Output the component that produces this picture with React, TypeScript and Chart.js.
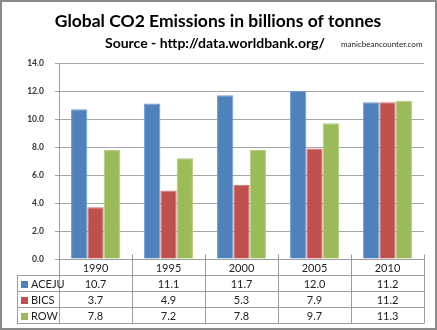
import { useEffect, useRef } from 'react';
import { Chart, registerables } from 'chart.js';
Chart.register(...registerables);

const categories = ['1990', '1995', '2000', '2005', '2010'];
const seriesNames = ['ACEJU', 'BICS', 'ROW'];
const aceju = [10.7, 11.1, 11.7, 12.0, 11.2];
const bics = [3.7, 4.9, 5.3, 7.9, 11.2];
const rowVals = [7.8, 7.2, 7.8, 9.7, 11.3];
const seriesColors = ['#4F81BD', '#C0504D', '#9BBB59'];
const seriesBorders = ['#6F9AD0', '#D0706D', '#B0CC7A'];
const yMin = 0;
const yMax = 14;
const yStep = 2;
const titleText = 'Global CO2 Emissions in billions of tonnes';
const subtitleText = 'Source - http://data.worldbank.org/';
const creditText = 'manicbeancounter.com';

const FONT = 'Lato, "Open Sans", sans-serif';

const allSeries = [aceju, bics, rowVals];

const overlayPlugin = {
  id: 'overlay',
  afterDraw(chart: any) {
    const ctx = chart.ctx as CanvasRenderingContext2D;
    const { left, right, bottom } = chart.chartArea;
    const n = categories.length;
    const cw = (right - left) / n;
    const rowH = 16;
    const legendLeft = 17;
    ctx.save();
    // titles
    ctx.fillStyle = '#000';
    ctx.textBaseline = 'alphabetic';
    ctx.textAlign = 'center';
    ctx.font = `bold 17.5px ${FONT}`;
    ctx.fillText(titleText, 218, 27);
    ctx.textAlign = 'left';
    ctx.font = `bold 14px ${FONT}`;
    ctx.fillText(subtitleText, 105, 48);
    ctx.font = `8px ${FONT}`;
    ctx.fillStyle = '#222';
    ctx.fillText(creditText, 341, 47);

    // table lines
    ctx.strokeStyle = '#9C9C9C';
    ctx.lineWidth = 1;
    const top0 = Math.round(bottom) + 0.5;
    const rowsY = [top0, top0 + rowH, top0 + 2 * rowH, top0 + 3 * rowH, top0 + 4 * rowH];
    ctx.beginPath();
    ctx.moveTo(left, rowsY[0]);
    ctx.lineTo(right, rowsY[0]);
    for (let r = 1; r < rowsY.length; r++) {
      ctx.moveTo(legendLeft, rowsY[r]);
      ctx.lineTo(right, rowsY[r]);
    }
    for (let i = 0; i <= n; i++) {
      const x = Math.round(left + i * cw) + 0.5;
      ctx.moveTo(x, rowsY[0] - 5);
      ctx.lineTo(x, rowsY[4]);
    }
    ctx.moveTo(legendLeft + 0.5, rowsY[1]);
    ctx.lineTo(legendLeft + 0.5, rowsY[4]);
    ctx.stroke();

    // header labels
    ctx.fillStyle = '#222';
    ctx.font = `11px ${FONT}`;
    ctx.textAlign = 'center';
    ctx.textBaseline = 'middle';
    for (let i = 0; i < n; i++) {
      const cx = chart.scales.x.getPixelForValue(i);
      ctx.fillText(categories[i], cx, rowsY[0] + rowH / 2 + 0.5);
    }
    for (let s = 0; s < allSeries.length; s++) {
      const yMid = rowsY[s + 1] + rowH / 2 + 0.5;
      ctx.fillStyle = seriesColors[s];
      ctx.fillRect(21, Math.round(yMid - 3.5), 7, 7);
      ctx.fillStyle = '#222';
      ctx.textAlign = 'left';
      ctx.fillText(seriesNames[s], 31, yMid);
      ctx.textAlign = 'center';
      for (let i = 0; i < n; i++) {
        const cx = chart.scales.x.getPixelForValue(i);
        ctx.fillText(allSeries[s][i].toFixed(1), cx, yMid);
      }
    }

    // outer border
    ctx.strokeStyle = '#8A8A8A';
    ctx.lineWidth = 2;
    ctx.strokeRect(1, 1, chart.width - 2, chart.height - 2);
    ctx.restore();
  },
};

export default function App() {
  const ref = useRef<HTMLCanvasElement>(null);
  useEffect(() => {
    const chart = new Chart(ref.current!, {
      type: 'bar',
      data: {
        labels: categories,
        datasets: allSeries.map((d, i) => ({
          label: seriesNames[i],
          data: d,
          backgroundColor: seriesColors[i],
          borderColor: seriesBorders[i],
          borderWidth: 1,
          categoryPercentage: 0.67,
          barPercentage: 1.0,
        })),
      },
      options: {
        animation: false,
        responsive: false,
        devicePixelRatio: 1,
        layout: { padding: { top: 63, right: 13, bottom: 71, left: 0 } },
        plugins: { legend: { display: false }, tooltip: { enabled: false }, title: { display: false } },
        scales: {
          x: { display: false },
          y: {
            min: yMin,
            max: yMax,
            ticks: {
              stepSize: yStep,
              callback: (v: any) => Number(v).toFixed(1),
              font: { family: FONT, size: 8.5, weight: 'bold' },
              color: '#333',
              padding: 11,
            },
            grid: { color: '#A6A6A6', lineWidth: 1, tickLength: 4, drawTicks: true },
            border: { color: '#9C9C9C', width: 1 },
            afterFit: (s: any) => { s.width = 59; },
          },
        },
      },
      plugins: [overlayPlugin],
    });
    return () => chart.destroy();
  }, []);
  return (
    <div style={{ position: 'fixed', left: 0, top: 0, width: 437, height: 330, background: '#fff' }}>
      <canvas ref={ref} width={437} height={330} style={{ display: 'block', width: 437, height: 330 }} />
    </div>
  );
}
